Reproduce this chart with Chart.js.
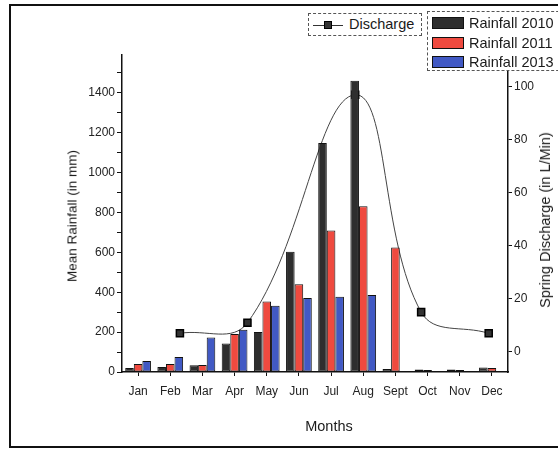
<!DOCTYPE html>
<html>
<head>
<meta charset="utf-8">
<script src="https://cdn.jsdelivr.net/npm/chart.js@4.4.1/dist/chart.umd.min.js"></script>
<style>
  html, body { margin: 0; padding: 0; background: #fff; }
  #wrap { position: relative; width: 558px; height: 450px; overflow: hidden;
          font-family: "Liberation Sans", Arial, sans-serif; color: #1a1a1a; }
  #frame { position: absolute; left: 9px; top: 4px; width: 620px; height: 440px; border: 2px solid #111; }
  canvas { position: absolute; left: 0; top: 0; }
  .ttl { position: absolute; white-space: nowrap; transform: translate(-50%, -50%); }
  .rot { transform: translate(-50%, -50%) rotate(-90deg); }
  .lg { position: absolute; border: 1px dashed #555; background: #fff; font-size: 14.5px; }
  .row { position: absolute; left: 4px; height: 19px; line-height: 19px; white-space: nowrap; }
  .sw { display: inline-block; width: 30px; height: 10px; border: 1px solid #111; vertical-align: -1px; margin-right: 5px; }
  .ln { display: inline-block; position: relative; width: 30px; height: 10px; vertical-align: -1px; margin-right: 6px; }
  .ln:before { content: ""; position: absolute; left: 0; right: 0; top: 5px; border-top: 1px solid #333; }
  .ln:after { content: ""; position: absolute; left: 11px; top: 1px; width: 6px; height: 6px; background: #333; border: 1px solid #000; }
</style>
</head>
<body>
<div id="wrap">
  <div id="frame"></div>
  <canvas id="c" width="558" height="450"></canvas>
  <div class="ttl rot" style="left:72px; top:216px; font-size:13.5px;">Mean Rainfall (in mm)</div>
  <div class="ttl rot" style="left:545px; top:220px; font-size:14.5px;">Spring Discharge (in L/Min)</div>
  <div class="ttl" style="left:329px; top:426px; font-size:14.5px;">Months</div>
  <div class="lg" id="lgLine" style="left:308px; top:13px; width:112px; height:21px;"></div>
  <div class="lg" id="lgBars" style="left:427px; top:11px; width:150px; height:58px;"></div>
</div>
<script>
const months = ['Jan', 'Feb', 'Mar', 'Apr', 'May', 'Jun', 'Jul', 'Aug', 'Sept', 'Oct', 'Nov', 'Dec'];
const rain2010 = [20, 25, 34, 143, 201, 603, 1149, 1461, 15, 12, 12, 22];
const rain2011 = [40, 40, 35, 190, 353, 440, 710, 831, 625, 10, 10, 20];
const rain2013 = [55, 75, 173, 212, 332, 371, 378, 386, null, null, null, null];
// discharge sampling positions, in month units (1 = Jan)
const dischargeMonth = [2.3, 4.4, 7.75, 9.8, 11.9];
const dischargeValue = [7, 11, 97, 15, 7];
// axis ticks
const rainTicks = [0, 100, 200, 300, 400, 500, 600, 700, 800, 900, 1000, 1100, 1200, 1300, 1400, 1500];
const dischargeTicks = [0, 20, 40, 60, 80, 100];

const barNames = ['Rainfall 2010', 'Rainfall 2011', 'Rainfall 2013'];
const barColors = ['#2e2e2e', '#ef4a3f', '#4159c4'];
const lineName = 'Discharge';

// legends
document.getElementById('lgLine').innerHTML =
  '<div class="row" style="top:1px;"><span class="ln"></span>' + lineName + '</div>';
document.getElementById('lgBars').innerHTML = barNames.map((n, i) =>
  '<div class="row" style="top:' + (2 + i * 19.5) + 'px;"><span class="sw" style="background:' + barColors[i] + '"></span>' + n + '</div>'
).join('');

// everything sits on one linear month axis so the discharge points can fall between months
const rainSeries = [rain2010, rain2011, rain2013];
const barSets = rainSeries.map((d, i) => ({
  type: 'bar',
  label: barNames[i],
  data: d.map((v, k) => ({ x: k + 1, y: v })),
  backgroundColor: barColors[i],
  borderColor: '#111',
  borderWidth: 1,
  borderSkipped: false,
  yAxisID: 'y',
  categoryPercentage: 0.8,
  barPercentage: 1.0,
  order: 0
}));

const tickFont = { family: 'Liberation Sans', size: 12 };

new Chart(document.getElementById('c'), {
  type: 'bar',
  data: {
    datasets: [
      ...barSets,
      {
        type: 'line',
        label: lineName,
        data: dischargeMonth.map((m, i) => ({ x: m, y: dischargeValue[i] })),
        yAxisID: 'y2',
        borderColor: '#444',
        borderWidth: 1,
        tension: 0.4,
        pointStyle: 'rect',
        pointRadius: 5,
        pointBackgroundColor: '#333',
        pointBorderColor: '#000',
        pointBorderWidth: 1.5,
        order: 1 // drawn behind the bars
      }
    ]
  },
  options: {
    responsive: false,
    animation: false,
    devicePixelRatio: 1,
    layout: { padding: { top: 55, left: 0, right: 0, bottom: 0 } },
    plugins: { legend: { display: false }, tooltip: { enabled: false } },
    scales: {
      x: {
        type: 'linear',
        min: 0.5,
        max: 12.5,
        offset: false,
        afterBuildTicks: s => { s.ticks = months.map((m, i) => ({ value: i + 1 })); },
        grid: { offset: false, drawOnChartArea: false, drawTicks: true, tickLength: 4, color: '#111' },
        border: { display: true, color: '#111', width: 1.5 },
        ticks: {
          autoSkip: false,
          maxRotation: 0,
          color: '#222',
          font: tickFont,
          padding: 8,
          callback: function (v) { return months[Math.round(v) - 1] || ''; }
        },
        afterFit: s => { s.height = 78; }
      },
      y: {
        position: 'left',
        min: 0,
        max: 1590,
        afterBuildTicks: s => { s.ticks = rainTicks.map(v => ({ value: v })); },
        grid: { drawOnChartArea: false, tickLength: 5, color: '#111' },
        border: { display: true, color: '#111', width: 1.5 },
        ticks: {
          autoSkip: false,
          color: '#222',
          font: tickFont,
          padding: 2,
          callback: function (v) { return Math.round(v) % 200 === 0 ? String(Math.round(v)) : ''; }
        },
        afterFit: s => { s.width = 122; }
      },
      y2: {
        position: 'right',
        min: -7.6,
        max: 112,
        afterBuildTicks: s => { s.ticks = dischargeTicks.map(v => ({ value: v })); },
        grid: { drawOnChartArea: false, tickLength: 4, color: '#111' },
        border: { display: true, color: '#111', width: 1.5 },
        ticks: { autoSkip: false, color: '#222', font: tickFont, padding: 2 },
        afterFit: s => { s.width = 50; }
      }
    }
  }
});
</script>
</body>
</html>
